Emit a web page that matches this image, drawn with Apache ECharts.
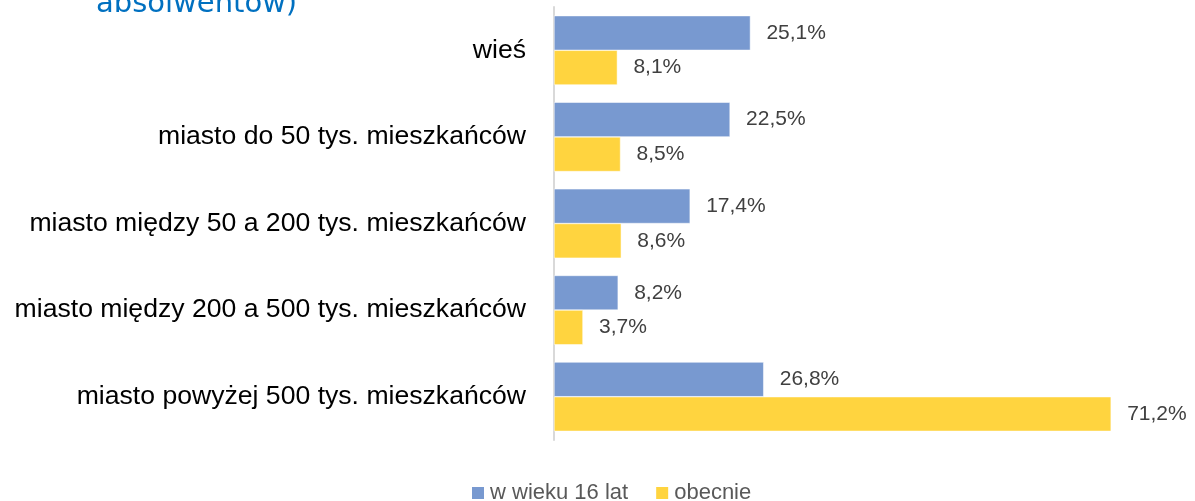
<!DOCTYPE html>
<html>
<head>
<meta charset="utf-8">
<script src="https://cdn.jsdelivr.net/npm/echarts@6/dist/echarts.min.js"></script>
<style>
  html, body { margin: 0; padding: 0; background: #fff; }
  #chart { width: 1195px; height: 501px; }
</style>
</head>
<body>
<div id="chart"></div>
<script>
// kategorie (od góry)
const categories = [
  'wieś',
  'miasto do 50 tys. mieszkańców',
  'miasto między 50 a 200 tys. mieszkańców',
  'miasto między 200 a 500 tys. mieszkańców',
  'miasto powyżej 500 tys. mieszkańców'
]
const seriesNames = ['w wieku 16 lat', 'obecnie']
const at16 = [25.1, 22.5, 17.4, 8.2, 26.8]
const now = [8.1, 8.5, 8.6, 3.7, 71.2]

const fontFamily = '"Liberation Sans", Arial, sans-serif'

const fmt = p => String(p.value.toFixed(1)).replace('.', ',') + '%'

const barSeries = (name, data, color) => ({
  name: name,
  type: 'bar',
  data: data,
  barGap: '0%',
  barCategoryGap: '20%',
  itemStyle: { color: color, borderColor: '#fff', borderWidth: 0.5 },
  label: {
    show: true,
    position: 'right',
    distance: 16,
    formatter: fmt,
    color: '#404040',
    fontSize: 21,
    fontFamily: fontFamily
  },
  emphasis: { disabled: true }
})

const chart = echarts.init(document.getElementById('chart'))
chart.setOption({
  animation: false,
  title: {
    text: 'absolwentów)',
    left: 91,
    top: -15,
    textStyle: {
      color: '#0070c0',
      fontSize: 29,
      fontWeight: 'normal',
      fontFamily: '"DejaVu Sans", sans-serif'
    }
  },
  legend: {
    data: seriesNames,
    left: 470,
    top: 482,
    padding: 0,
    itemWidth: 14,
    itemHeight: 14,
    itemGap: 26,
    icon: 'rect',
    textStyle: { color: '#595959', fontSize: 22, fontFamily: fontFamily }
  },
  grid: { left: 554, right: 15, top: 7, bottom: 61, containLabel: false },
  xAxis: {
    type: 'value',
    min: 0,
    max: 80,
    show: false
  },
  yAxis: {
    type: 'category',
    data: categories,
    inverse: true,
    axisLine: { show: true, lineStyle: { color: '#d9d9d9', width: 2 } },
    axisTick: { show: false },
    axisLabel: {
      color: '#000',
      fontSize: 26.6,
      margin: 28,
      fontFamily: fontFamily
    }
  },
  series: [
    barSeries(seriesNames[0], at16, '#7899d0'),
    barSeries(seriesNames[1], now, '#ffd43f')
  ]
})
</script>
</body>
</html>
